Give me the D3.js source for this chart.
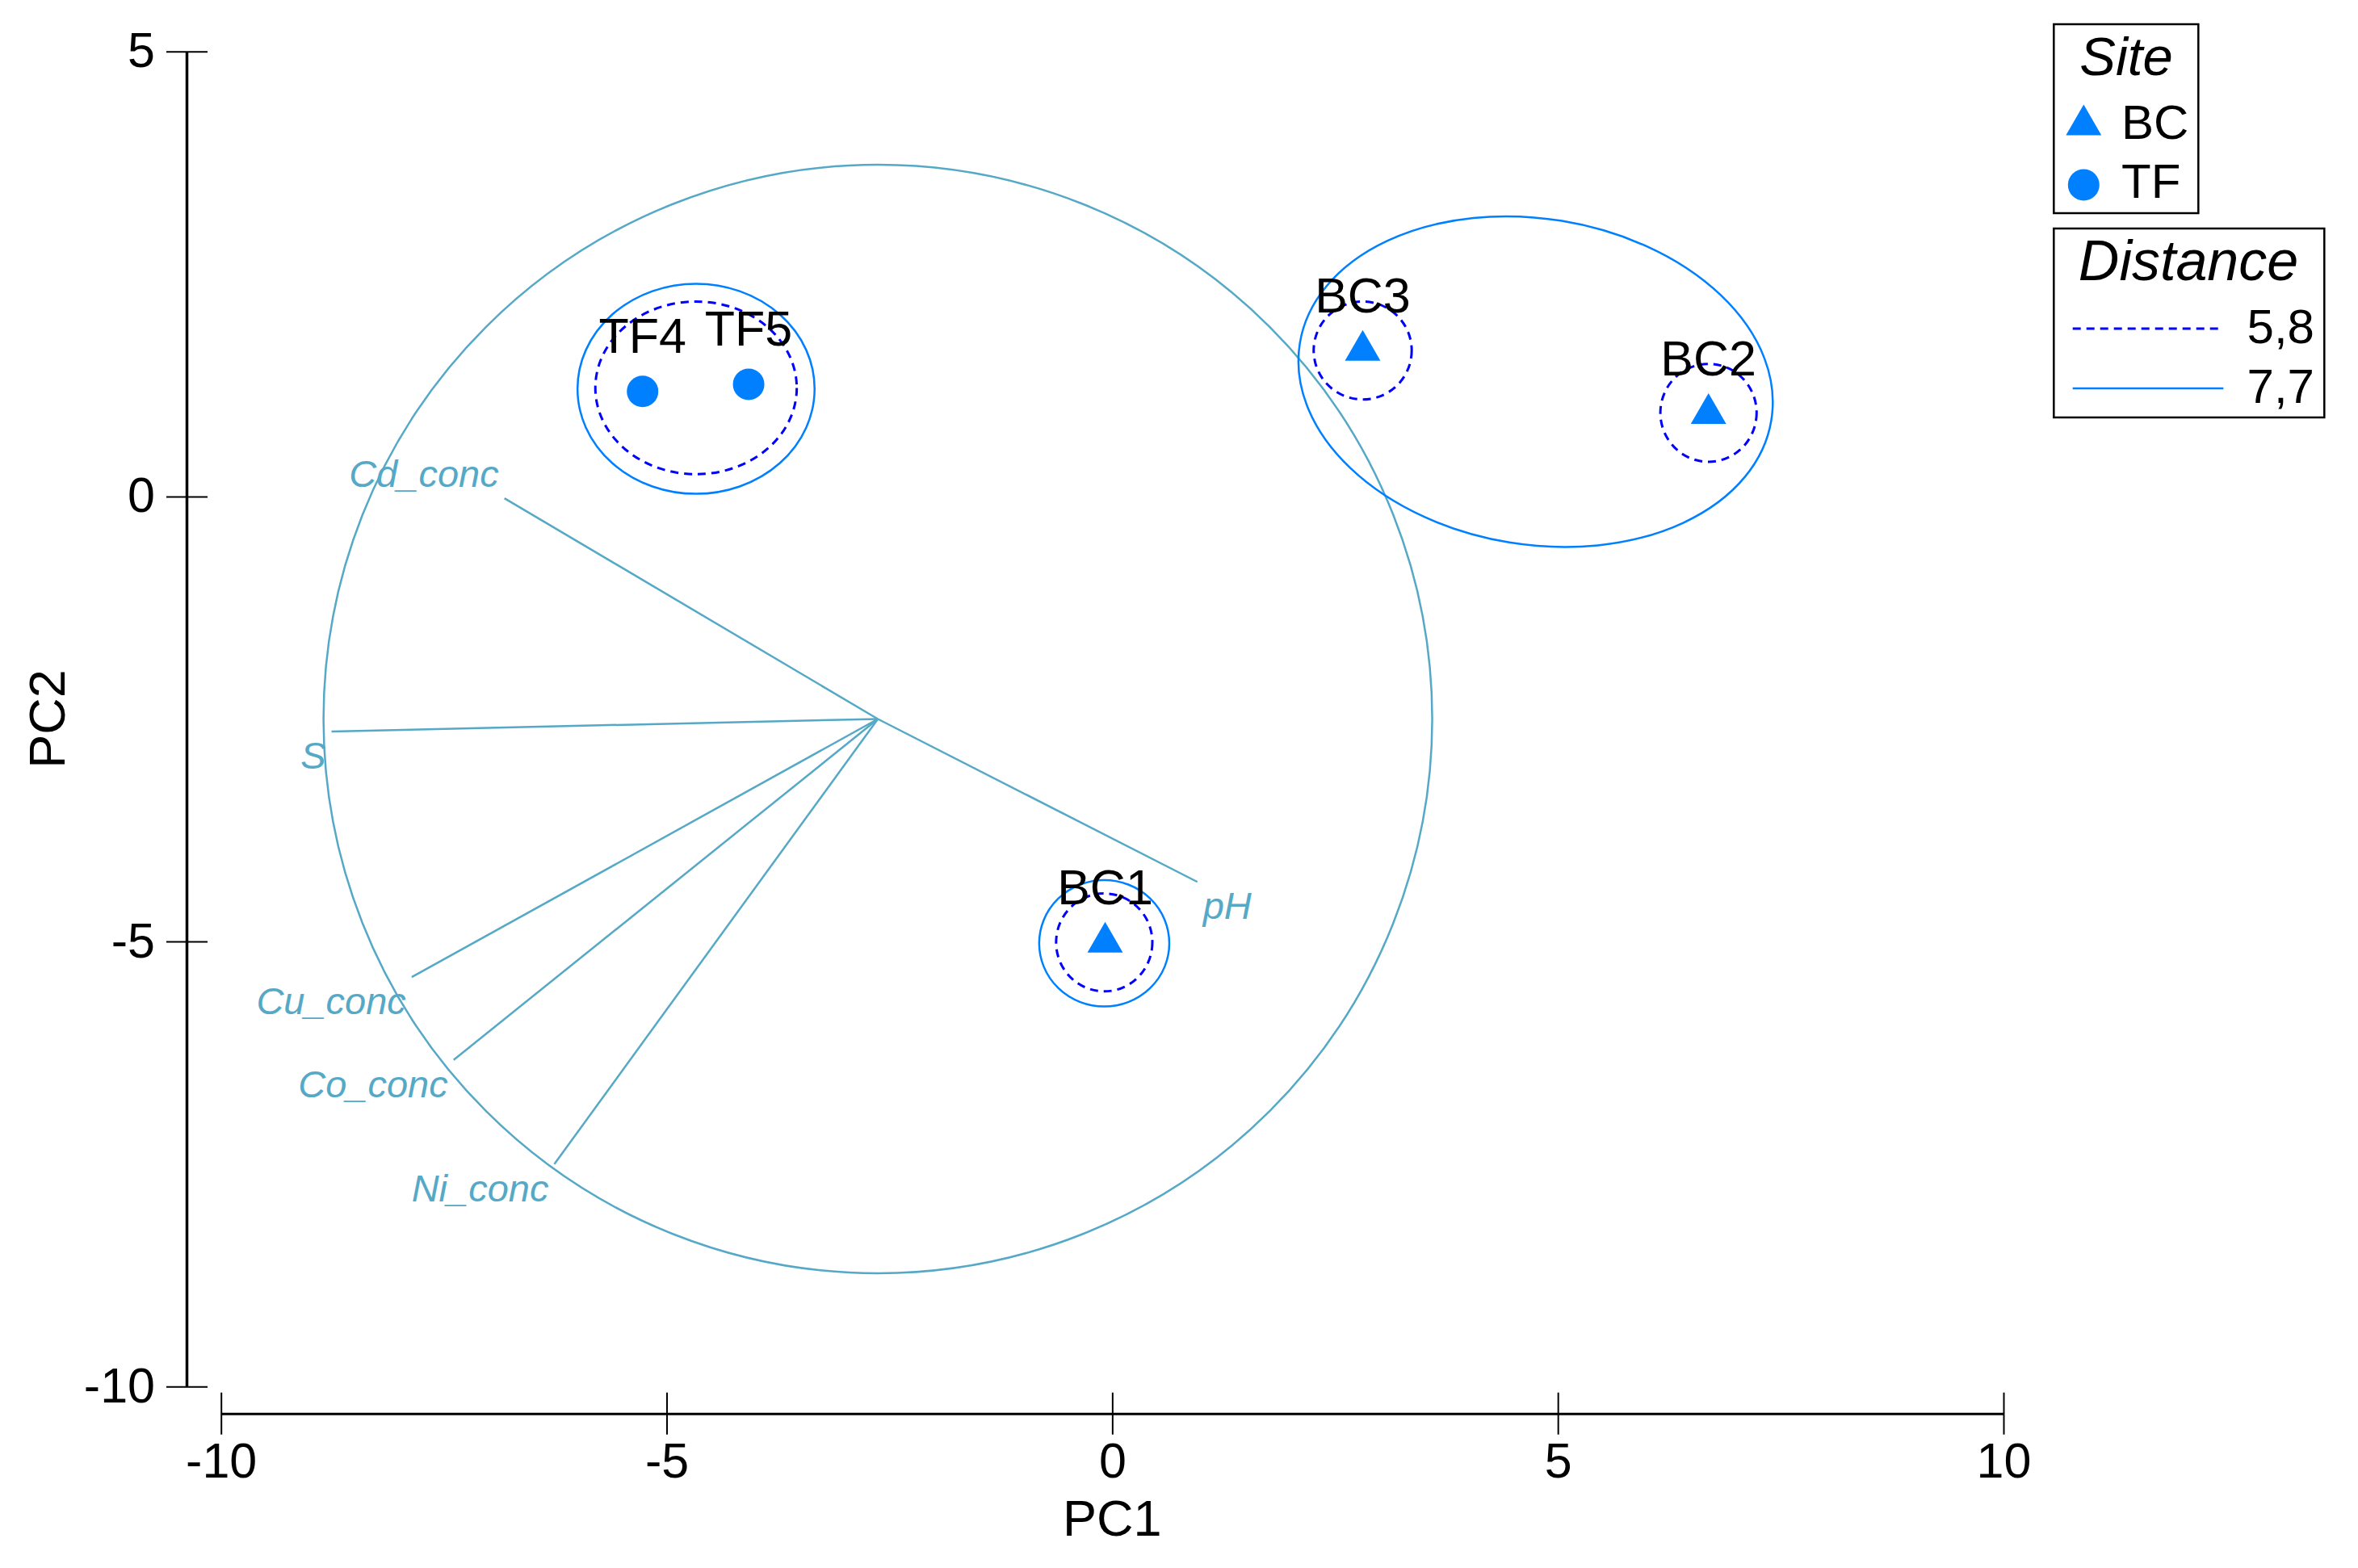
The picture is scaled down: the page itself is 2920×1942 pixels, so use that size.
<!DOCTYPE html>
<html>
<head>
<meta charset="utf-8">
<script src="https://cdn.jsdelivr.net/npm/d3@7"></script>
<style>
  html, body { margin: 0; padding: 0; background: #ffffff; }
  svg { display: block; }
  text { font-family: "Liberation Sans", Arial, sans-serif; }
</style>
</head>
<body>
<svg id="chart" width="2920" height="1942"></svg>
<script>
// ---------------- DATA ----------------
const sampleNames = ["TF4", "TF5", "BC1", "BC2", "BC3"];
const sampleSite  = ["TF", "TF", "BC", "BC", "BC"];
const samplePC1   = [-5.27, -4.08, -0.08, 6.69, 2.81];
const samplePC2   = [1.18, 1.26, -5.01, 0.93, 1.64];

const variableNames = ["Cd_conc", "S", "pH", "Cu_conc", "Co_conc", "Ni_conc"];
const vectorPC1     = [-6.82, -8.76, 0.955, -7.86, -7.39, -6.26];
const vectorPC2     = [-0.02, -2.64, -4.33, -5.40, -6.33, -7.50];
const vectorOrigin  = [-2.63, -2.50];
const vectorCircleRadius = 6.22;

// cluster overlays (similarity level contours)
const contourLevel = ["5,8", "5,8", "5,8", "5,8", "7,7", "7,7", "7,7"];
const contourCx    = [-4.67, 2.81, 6.69, -0.09, -4.67, 4.75, -0.09];
const contourCy    = [1.22, 1.64, 0.94, -5.01, 1.21, 1.29, -5.02];
const contourRx    = [1.13, 0.55, 0.54, 0.54, 1.33, 2.68, 0.73];
const contourRy    = [0.97, 0.55, 0.55, 0.55, 1.18, 1.83, 0.71];
const contourAngle = [0, 0, 0, 0, 0, 9.3, 0];

const xTicks = [-10, -5, 0, 5, 10];
const yTicks = [-10, -5, 0, 5];
const xTitle = "PC1";
const yTitle = "PC2";

const siteLegend = ["BC", "TF"];
const distanceLegend = ["5,8", "7,7"];

// ---------------- STYLE ----------------
const markerColor = "#0080ff";
const vectorColor = "#56a9c6";
const levelStyle = {
  "5,8": { stroke: "#0000ff", dash: "10,7", width: 3 },
  "7,7": { stroke: "#0080ff", dash: null, width: 2.5 }
};

const svg = d3.select("#chart");
svg.append("rect").attr("width", 2920).attr("height", 1942).attr("fill", "#fff");

const x = d3.scaleLinear().domain([-10, 10]).range([273.7, 2481]);
const y = d3.scaleLinear().domain([-10, 5]).range([1717.3, 63.7]);

const symbolFor = s => s === "BC" ? d3.symbolTriangle : d3.symbolCircle;
const symbolSize = s => s === "BC" ? 834 : 1195;

// ---------------- AXES ----------------
const xAxisY = 1750.7;
const yAxisX = 231;

const gx = svg.append("g").attr("transform", `translate(0,${xAxisY})`)
  .call(d3.axisBottom(x).tickValues(xTicks).tickSizeInner(26).tickSizeOuter(0).tickFormat(d3.format("d")));
gx.select(".domain").attr("stroke", "#000").attr("stroke-width", 3);
gx.selectAll(".tick line").attr("y1", -26).attr("y2", 26).attr("stroke", "#000").attr("stroke-width", 2);
gx.selectAll(".tick text").attr("y", 79).attr("dy", 0)
  .attr("font-size", 61).attr("fill", "#000")
  .style("font-family", '"Liberation Sans", Arial, sans-serif')
  .text(d => d < 0 ? "-" + Math.abs(d) : String(d));

const gy = svg.append("g").attr("transform", `translate(${yAxisX},0)`)
  .call(d3.axisLeft(y).tickValues(yTicks).tickSizeInner(25).tickSizeOuter(0).tickFormat(d3.format("d")));
gy.select(".domain").attr("stroke", "#000").attr("stroke-width", 3.5);
gy.selectAll(".tick line").attr("x1", 26).attr("x2", -25).attr("stroke", "#000").attr("stroke-width", 2);
gy.selectAll(".tick text").attr("x", -39).attr("dy", "0.31em")
  .attr("font-size", 61).attr("fill", "#000").attr("text-anchor", "end")
  .style("font-family", '"Liberation Sans", Arial, sans-serif')
  .text(d => d < 0 ? "-" + Math.abs(d) : String(d));

svg.append("text").attr("x", (x(-10) + x(10)) / 2).attr("y", 1902)
  .attr("text-anchor", "middle").attr("font-size", 63).attr("fill", "#000").text(xTitle);
svg.append("text")
  .attr("transform", `translate(80,${(y(-10) + y(5)) / 2}) rotate(-90)`)
  .attr("text-anchor", "middle").attr("font-size", 63).attr("fill", "#000").text(yTitle);

// ---------------- VECTOR OVERLAY ----------------
const ox = x(vectorOrigin[0]), oy = y(vectorOrigin[1]);
svg.append("circle")
  .attr("cx", ox).attr("cy", oy)
  .attr("r", x(vectorOrigin[0] + vectorCircleRadius) - ox)
  .attr("fill", "none").attr("stroke", vectorColor).attr("stroke-width", 2.5);

const vecData = variableNames.map((n, i) => ({ name: n, vx: vectorPC1[i], vy: vectorPC2[i] }));
svg.append("g").selectAll("line").data(vecData).join("line")
  .attr("x1", ox).attr("y1", oy)
  .attr("x2", d => x(d.vx)).attr("y2", d => y(d.vy))
  .attr("stroke", vectorColor).attr("stroke-width", 2.5);

svg.append("g").selectAll("text").data(vecData).join("text")
  .attr("x", d => x(d.vx) + (d.vx < vectorOrigin[0] ? -7 : 7))
  .attr("y", d => y(d.vy) + (d.vy > vectorOrigin[1] ? -14 : 46))
  .attr("text-anchor", d => d.vx < vectorOrigin[0] ? "end" : "start")
  .attr("font-size", 47).attr("font-style", "italic")
  .attr("fill", vectorColor)
  .text(d => d.name);

// ---------------- CLUSTER CONTOURS ----------------
const contData = contourLevel.map((l, i) => ({
  level: l, cx: contourCx[i], cy: contourCy[i], rx: contourRx[i], ry: contourRy[i], a: contourAngle[i]
}));
svg.append("g").selectAll("ellipse").data(contData).join("ellipse")
  .attr("transform", d => `translate(${x(d.cx)},${y(d.cy)}) rotate(${d.a})`)
  .attr("rx", d => x(d.cx + d.rx) - x(d.cx))
  .attr("ry", d => y(d.cy - d.ry) - y(d.cy))
  .attr("fill", "none")
  .attr("stroke", d => levelStyle[d.level].stroke)
  .attr("stroke-width", d => levelStyle[d.level].width)
  .attr("stroke-dasharray", d => levelStyle[d.level].dash);

// ---------------- SAMPLES ----------------
const pts = sampleNames.map((n, i) => ({ name: n, site: sampleSite[i], px: samplePC1[i], py: samplePC2[i] }));
svg.append("g").selectAll("path").data(pts).join("path")
  .attr("transform", d => `translate(${x(d.px)},${y(d.py)})`)
  .attr("d", d => d3.symbol().type(symbolFor(d.site)).size(symbolSize(d.site))())
  .attr("fill", markerColor);

svg.append("g").selectAll("text").data(pts).join("text")
  .attr("x", d => x(d.px))
  .attr("y", d => y(d.py) - 47.5)
  .attr("text-anchor", "middle").attr("font-size", 61).attr("fill", "#000")
  .text(d => d.name);

// ---------------- LEGENDS ----------------
const lg = svg.append("g");
lg.append("rect").attr("x", 2543.3).attr("y", 30).attr("width", 179).attr("height", 234)
  .attr("fill", "#fff").attr("stroke", "#000").attr("stroke-width", 2.5);
lg.append("text").attr("x", 2633).attr("y", 93).attr("text-anchor", "middle")
  .attr("font-size", 67).attr("font-style", "italic").attr("fill", "#000").text("Site");
siteLegend.forEach((s, i) => {
  const cy = i === 0 ? 154.8 : 229;
  lg.append("path").attr("transform", `translate(2580.3,${cy})`)
    .attr("d", d3.symbol().type(symbolFor(s)).size(symbolSize(s))())
    .attr("fill", markerColor);
  lg.append("text").attr("x", 2627).attr("y", i === 0 ? 172 : 245)
    .attr("font-size", 60).attr("fill", "#000").text(s);
});

lg.append("rect").attr("x", 2543.3).attr("y", 283).attr("width", 335).attr("height", 234)
  .attr("fill", "#fff").attr("stroke", "#000").attr("stroke-width", 2.5);
lg.append("text").attr("x", 2710).attr("y", 347).attr("text-anchor", "middle")
  .attr("font-size", 70).attr("font-style", "italic").attr("fill", "#000").text("Distance");
distanceLegend.forEach((l, i) => {
  const ly = i === 0 ? 407 : 481;
  const st = levelStyle[l];
  lg.append("line").attr("x1", 2566.7).attr("x2", 2753.3).attr("y1", ly).attr("y2", ly)
    .attr("stroke", st.stroke).attr("stroke-width", st.width)
    .attr("stroke-dasharray", st.dash);
  lg.append("text").attr("x", 2866).attr("y", i === 0 ? 425 : 499)
    .attr("text-anchor", "end").attr("font-size", 60).attr("fill", "#000").text(l);
});
</script>
</body>
</html>
